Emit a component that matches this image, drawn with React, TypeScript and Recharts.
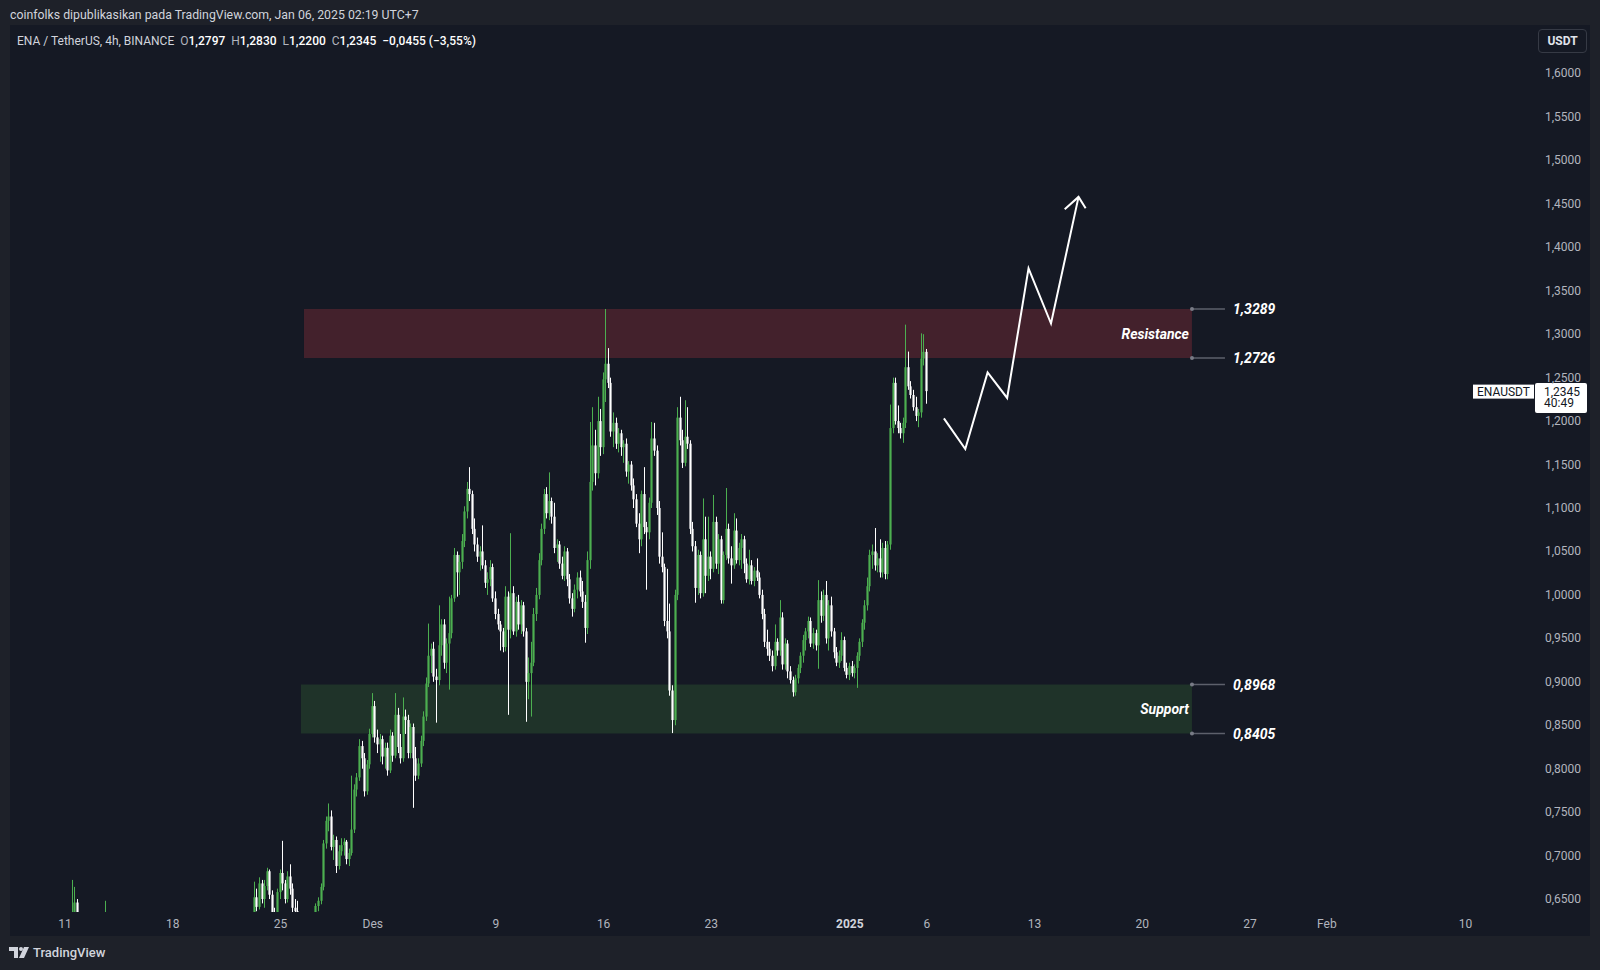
import {
  Bar,
  ComposedChart,
  Line,
  ReferenceArea,
  ReferenceLine,
  XAxis,
  YAxis,
} from "recharts"

type OHLC = [number, number, number, number]

// Candle 4h ENA/USDT (Binance). Waktu = hari sejak 11 Nov 2024 00:00 UTC+7.
const BAR_DAYS = 4 / 24

const NOV11_START = 7 / 24
const NOV11: OHLC[] = [
  [0.600, 0.625, 0.590, 0.618], [0.612, 0.672, 0.606, 0.628], [0.628, 0.664, 0.622, 0.646],
  [0.646, 0.650, 0.618, 0.624], [0.624, 0.630, 0.600, 0.606],
]

const NOV13_START = 2 + 11 / 24
const NOV13: OHLC[] = [
  [0.600, 0.612, 0.594, 0.608], [0.608, 0.648, 0.604, 0.626], [0.626, 0.630, 0.606, 0.612],
]

// dari 22 Nov 23:00, enam candle per hari
const MAIN_START = 11 + 23 / 24

const WEEK_NOV23: OHLC[] = [
  [0.600, 0.612, 0.592, 0.608], [0.608, 0.628, 0.604, 0.622], [0.622, 0.670, 0.618, 0.652], [0.652, 0.662, 0.636, 0.641], [0.641, 0.675, 0.638, 0.668], [0.668, 0.672, 0.645, 0.650],
  [0.650, 0.672, 0.640, 0.665], [0.665, 0.686, 0.660, 0.682], [0.682, 0.684, 0.650, 0.655], [0.655, 0.660, 0.628, 0.633], [0.633, 0.640, 0.615, 0.622], [0.622, 0.662, 0.618, 0.658],
  [0.658, 0.684, 0.650, 0.680], [0.680, 0.717, 0.660, 0.668], [0.668, 0.672, 0.645, 0.650], [0.650, 0.682, 0.646, 0.676], [0.676, 0.690, 0.655, 0.662], [0.662, 0.668, 0.632, 0.640],
  [0.640, 0.650, 0.630, 0.636], [0.636, 0.648, 0.620, 0.626], [0.626, 0.630, 0.598, 0.604], [0.604, 0.618, 0.590, 0.612], [0.612, 0.622, 0.596, 0.600], [0.600, 0.614, 0.588, 0.608],
  [0.608, 0.622, 0.600, 0.618], [0.618, 0.632, 0.612, 0.628], [0.628, 0.645, 0.624, 0.642], [0.642, 0.652, 0.636, 0.648], [0.648, 0.668, 0.644, 0.664], [0.664, 0.718, 0.660, 0.714],
  [0.714, 0.745, 0.708, 0.740], [0.740, 0.760, 0.728, 0.745], [0.745, 0.752, 0.706, 0.710], [0.710, 0.724, 0.695, 0.718], [0.718, 0.722, 0.680, 0.688], [0.688, 0.712, 0.684, 0.705],
  [0.705, 0.720, 0.700, 0.712], [0.712, 0.720, 0.700, 0.716], [0.716, 0.718, 0.690, 0.696], [0.696, 0.708, 0.688, 0.703], [0.703, 0.792, 0.700, 0.730], [0.730, 0.782, 0.726, 0.776],
]

const WEEK_NOV30: OHLC[] = [
  [0.776, 0.795, 0.768, 0.790], [0.790, 0.834, 0.786, 0.826], [0.826, 0.832, 0.800, 0.812], [0.812, 0.818, 0.768, 0.774], [0.774, 0.810, 0.770, 0.805], [0.805, 0.846, 0.800, 0.840],
  [0.840, 0.887, 0.836, 0.872], [0.872, 0.878, 0.830, 0.836], [0.836, 0.845, 0.818, 0.828], [0.828, 0.840, 0.808, 0.834], [0.834, 0.838, 0.805, 0.814], [0.814, 0.830, 0.800, 0.824],
  [0.824, 0.830, 0.792, 0.798], [0.798, 0.845, 0.795, 0.838], [0.838, 0.842, 0.808, 0.815], [0.815, 0.887, 0.812, 0.862], [0.862, 0.870, 0.818, 0.825], [0.825, 0.840, 0.806, 0.812],
  [0.812, 0.882, 0.808, 0.860], [0.860, 0.868, 0.840, 0.856], [0.856, 0.862, 0.812, 0.818], [0.818, 0.852, 0.812, 0.848], [0.848, 0.852, 0.755, 0.812], [0.812, 0.825, 0.786, 0.792],
  [0.792, 0.812, 0.788, 0.806], [0.806, 0.838, 0.802, 0.832], [0.832, 0.866, 0.826, 0.860], [0.860, 0.905, 0.855, 0.898], [0.898, 0.967, 0.894, 0.930], [0.930, 0.944, 0.910, 0.938],
  [0.938, 0.946, 0.900, 0.906], [0.906, 0.915, 0.853, 0.902], [0.902, 0.988, 0.896, 0.942], [0.942, 0.972, 0.930, 0.966], [0.966, 0.972, 0.915, 0.922], [0.922, 0.950, 0.910, 0.944],
  [0.944, 0.998, 0.891, 0.956], [0.956, 1.000, 0.950, 0.996], [0.996, 1.054, 0.992, 1.046], [1.046, 1.050, 0.998, 1.026], [1.026, 1.046, 1.000, 1.038], [1.038, 1.070, 1.030, 1.062],
]

const WEEK_DEC7: OHLC[] = [
  [1.062, 1.102, 1.055, 1.096], [1.096, 1.130, 1.088, 1.122], [1.122, 1.147, 1.108, 1.116], [1.116, 1.120, 1.070, 1.076], [1.076, 1.088, 1.050, 1.058], [1.058, 1.066, 1.038, 1.044],
  [1.044, 1.056, 1.028, 1.050], [1.050, 1.080, 1.030, 1.034], [1.034, 1.040, 1.008, 1.014], [1.014, 1.026, 1.000, 1.018], [1.018, 1.040, 1.010, 1.032], [1.032, 1.036, 0.992, 0.996],
  [0.996, 1.004, 0.972, 0.978], [0.978, 0.984, 0.960, 0.966], [0.966, 0.970, 0.936, 0.958], [0.958, 0.962, 0.934, 0.940], [0.940, 1.010, 0.935, 0.998], [0.998, 1.004, 0.862, 0.960],
  [0.960, 1.071, 0.950, 1.002], [1.002, 1.010, 0.954, 0.958], [0.958, 0.998, 0.952, 0.992], [0.992, 1.000, 0.960, 0.966], [0.966, 0.994, 0.955, 0.988], [0.988, 0.992, 0.952, 0.958],
  [0.958, 0.962, 0.854, 0.900], [0.900, 0.928, 0.880, 0.910], [0.910, 0.946, 0.860, 0.922], [0.922, 0.985, 0.918, 0.978], [0.978, 1.008, 0.970, 1.000], [1.000, 1.048, 0.995, 1.040],
  [1.040, 1.082, 1.034, 1.076], [1.076, 1.122, 1.070, 1.116], [1.116, 1.124, 1.088, 1.094], [1.094, 1.141, 1.086, 1.108], [1.108, 1.112, 1.082, 1.090], [1.090, 1.106, 1.048, 1.054],
  [1.054, 1.064, 1.038, 1.058], [1.058, 1.062, 1.030, 1.036], [1.036, 1.044, 1.018, 1.022], [1.022, 1.056, 1.016, 1.050], [1.050, 1.054, 1.010, 1.018], [1.018, 1.024, 0.990, 0.996],
]

const WEEK_DEC14: OHLC[] = [
  [0.996, 1.002, 0.975, 0.984], [0.984, 1.012, 0.980, 1.006], [1.006, 1.026, 0.996, 1.020], [1.020, 1.028, 0.998, 1.004], [1.004, 1.016, 0.985, 0.992], [0.992, 1.000, 0.945, 0.962],
  [0.962, 1.050, 0.955, 1.040], [1.040, 1.199, 1.030, 1.130], [1.130, 1.216, 1.120, 1.172], [1.172, 1.190, 1.126, 1.140], [1.140, 1.228, 1.134, 1.200], [1.200, 1.214, 1.160, 1.170],
  [1.170, 1.256, 1.162, 1.248], [1.248, 1.329, 1.222, 1.266], [1.266, 1.284, 1.238, 1.244], [1.244, 1.250, 1.182, 1.188], [1.188, 1.210, 1.170, 1.198], [1.198, 1.204, 1.168, 1.174],
  [1.174, 1.192, 1.164, 1.186], [1.186, 1.190, 1.160, 1.170], [1.170, 1.178, 1.152, 1.174], [1.174, 1.180, 1.136, 1.142], [1.142, 1.154, 1.128, 1.150], [1.150, 1.154, 1.120, 1.126],
  [1.126, 1.134, 1.100, 1.110], [1.110, 1.116, 1.078, 1.082], [1.082, 1.094, 1.048, 1.064], [1.064, 1.120, 1.056, 1.116], [1.116, 1.147, 1.070, 1.078], [1.078, 1.084, 1.006, 1.072],
  [1.072, 1.112, 1.064, 1.106], [1.106, 1.199, 1.100, 1.180], [1.180, 1.198, 1.160, 1.166], [1.166, 1.172, 1.092, 1.100], [1.100, 1.108, 1.036, 1.044], [1.044, 1.072, 1.026, 1.032],
  [1.032, 1.036, 0.964, 0.970], [0.970, 1.030, 0.950, 0.958], [0.958, 0.990, 0.884, 0.890], [0.890, 0.896, 0.841, 0.856], [0.856, 1.006, 0.850, 1.000], [1.000, 1.216, 0.994, 1.204],
]

const WEEK_DEC21: OHLC[] = [
  [1.204, 1.228, 1.172, 1.178], [1.178, 1.190, 1.146, 1.152], [1.152, 1.224, 1.148, 1.182], [1.182, 1.216, 1.168, 1.174], [1.174, 1.178, 1.070, 1.076], [1.076, 1.084, 1.050, 1.056],
  [1.056, 1.062, 0.991, 1.008], [1.008, 1.052, 1.000, 1.046], [1.046, 1.050, 0.996, 1.002], [1.002, 1.111, 0.998, 1.064], [1.064, 1.090, 1.002, 1.022], [1.022, 1.090, 1.016, 1.044],
  [1.044, 1.050, 1.018, 1.030], [1.030, 1.115, 1.026, 1.084], [1.084, 1.090, 1.030, 1.036], [1.036, 1.070, 1.024, 1.064], [1.064, 1.068, 0.990, 0.994], [0.994, 1.050, 0.990, 1.046],
  [1.046, 1.123, 1.040, 1.076], [1.076, 1.082, 1.036, 1.042], [1.042, 1.056, 1.013, 1.034], [1.034, 1.094, 1.030, 1.074], [1.074, 1.088, 1.036, 1.040], [1.040, 1.060, 1.034, 1.054],
  [1.054, 1.070, 1.030, 1.064], [1.064, 1.068, 1.025, 1.036], [1.036, 1.042, 1.014, 1.018], [1.018, 1.052, 1.012, 1.034], [1.034, 1.040, 1.012, 1.016], [1.016, 1.032, 1.010, 1.028],
  [1.028, 1.042, 1.016, 1.020], [1.020, 1.026, 0.996, 1.000], [1.000, 1.006, 0.972, 0.978], [0.978, 0.984, 0.940, 0.946], [0.946, 0.960, 0.930, 0.938], [0.938, 0.946, 0.924, 0.930],
  [0.930, 0.936, 0.912, 0.918], [0.918, 0.966, 0.914, 0.946], [0.946, 0.950, 0.930, 0.936], [0.936, 0.994, 0.930, 0.974], [0.974, 0.980, 0.914, 0.920], [0.920, 0.950, 0.914, 0.944],
]

const WEEK_DEC28: OHLC[] = [
  [0.944, 0.948, 0.904, 0.912], [0.912, 0.918, 0.898, 0.902], [0.902, 0.906, 0.883, 0.888], [0.888, 0.908, 0.884, 0.904], [0.904, 0.920, 0.898, 0.916], [0.916, 0.934, 0.910, 0.930],
  [0.930, 0.954, 0.922, 0.948], [0.948, 0.962, 0.936, 0.958], [0.958, 0.975, 0.950, 0.970], [0.970, 0.974, 0.940, 0.944], [0.944, 0.962, 0.938, 0.956], [0.956, 0.960, 0.936, 0.942],
  [0.942, 1.017, 0.915, 0.994], [0.994, 1.004, 0.968, 0.976], [0.976, 1.006, 0.970, 1.000], [1.000, 1.016, 0.944, 0.950], [0.950, 0.994, 0.936, 0.988], [0.988, 0.998, 0.952, 0.958],
  [0.958, 0.962, 0.927, 0.934], [0.934, 0.940, 0.918, 0.922], [0.922, 0.936, 0.916, 0.930], [0.930, 0.957, 0.924, 0.948], [0.948, 0.952, 0.912, 0.916], [0.916, 0.922, 0.904, 0.908],
  [0.908, 0.922, 0.902, 0.918], [0.918, 0.924, 0.906, 0.910], [0.910, 0.920, 0.904, 0.916], [0.916, 0.934, 0.893, 0.930], [0.930, 0.950, 0.924, 0.946], [0.946, 0.972, 0.940, 0.968],
  [0.968, 0.994, 0.960, 0.988], [0.988, 1.020, 0.982, 1.010], [1.010, 1.052, 1.004, 1.046], [1.046, 1.058, 1.030, 1.050], [1.050, 1.077, 1.028, 1.034], [1.034, 1.048, 1.026, 1.042],
  [1.042, 1.064, 1.020, 1.026], [1.026, 1.060, 1.020, 1.054], [1.054, 1.062, 1.018, 1.024], [1.024, 1.062, 1.018, 1.058], [1.058, 1.219, 1.052, 1.192], [1.192, 1.250, 1.186, 1.244],
]

const WEEK_JAN4: OHLC[] = [
  [1.244, 1.250, 1.196, 1.200], [1.200, 1.218, 1.186, 1.192], [1.192, 1.198, 1.180, 1.186], [1.186, 1.204, 1.175, 1.198], [1.198, 1.311, 1.192, 1.262], [1.262, 1.280, 1.236, 1.240],
  [1.240, 1.246, 1.226, 1.230], [1.230, 1.236, 1.212, 1.216], [1.216, 1.228, 1.200, 1.206], [1.206, 1.214, 1.193, 1.210], [1.210, 1.301, 1.204, 1.272], [1.272, 1.300, 1.264, 1.2797],
  [1.2797, 1.2830, 1.2200, 1.2345],
]

// gambar proyeksi (panah putih)
const PROJECTION_T = [57.11, 58.5, 59.95, 61.22, 62.61, 64.07, 65.86]
const PROJECTION_P = [1.2031, 1.1679, 1.256, 1.2266, 1.3757, 1.3123, 1.458]
const ARROWHEAD_T = [64.96, 65.86, 66.32]
const ARROWHEAD_P = [1.4438, 1.458, 1.445]

// zona
const RESISTANCE_T = [15.53, 73.23]
const RESISTANCE_P = [1.2726, 1.3289]
const SUPPORT_T = [15.33, 73.23]
const SUPPORT_P = [0.8405, 0.8968]

const LAST_PRICE = 1.2345

const TIME_TICKS = [0, 7, 14, 20, 28, 35, 42, 51, 56, 63, 70, 77, 82, 91]
const TIME_LABELS = ["11", "18", "25", "Des", "9", "16", "23", "2025", "6", "13", "20", "27", "Feb", "10"]
const PRICE_TICKS = [
  0.65, 0.7, 0.75, 0.8, 0.85, 0.9, 0.95, 1.0, 1.05, 1.1,
  1.15, 1.2, 1.25, 1.3, 1.35, 1.4, 1.45, 1.5, 1.55, 1.6,
]

const UP = "#4caf50"
const DOWN = "#ffffff"
const PANE = "#151924"
const FRAME = "#1e2129"
const FONT = "Roboto, 'Noto Sans', sans-serif"

function series(start: number, rows: OHLC[]) {
  return rows.map(([o, h, l, c], i) => ({
    t: start + i * BAR_DAYS,
    o,
    h,
    l,
    c,
    range: [l, h],
  }))
}

const candles = [
  ...series(NOV11_START, NOV11),
  ...series(NOV13_START, NOV13),
  ...series(MAIN_START, [
    ...WEEK_NOV23,
    ...WEEK_NOV30,
    ...WEEK_DEC7,
    ...WEEK_DEC14,
    ...WEEK_DEC21,
    ...WEEK_DEC28,
    ...WEEK_JAN4,
  ]),
]

const projection = PROJECTION_T.map((t, i) => ({ t, p: PROJECTION_P[i] }))
const arrowHead = ARROWHEAD_T.map((t, i) => ({ t, p: ARROWHEAD_P[i] }))

function fmt(v: number) {
  return v.toFixed(4).replace(".", ",")
}

function Candle(props: any) {
  const { x, y, width, height, payload } = props
  if (!payload) return null
  const { o, h, l, c } = payload
  const cx = Math.round(x + width / 2)
  const span = h - l || 1
  const k = Math.abs(height) / span
  const top = Math.min(y, y + height)
  const yO = top + (h - o) * k
  const yC = top + (h - c) * k
  const color = c >= o ? UP : DOWN
  return (
    <g>
      <rect x={cx} y={top} width={1} height={Math.abs(height)} fill={color} />
      <rect
        x={cx - 0.6}
        y={Math.min(yO, yC)}
        width={2.2}
        height={Math.max(1, Math.abs(yC - yO))}
        fill={color}
      />
    </g>
  )
}

function TimeTick(props: any) {
  const { x, y, payload } = props
  const label = TIME_LABELS[TIME_TICKS.indexOf(payload.value)]
  const bold = label === "2025"
  return (
    <text
      x={x}
      y={y + 12}
      textAnchor="middle"
      dominantBaseline="central"
      fontSize={12}
      fontFamily={FONT}
      fontWeight={bold ? 700 : 400}
      fill={bold ? "#d1d4dc" : "#b2b5be"}
    >
      {label}
    </text>
  )
}

function PriceTick(props: any) {
  const { x, y, payload } = props
  return (
    <text
      x={x + 46}
      y={y}
      textAnchor="end"
      dominantBaseline="central"
      fontSize={12}
      fontFamily={FONT}
      fill="#b2b5be"
    >
      {fmt(payload.value)}
    </text>
  )
}

function ZoneLabel(props: any) {
  const { viewBox, name, top, bottom } = props
  if (!viewBox) return null
  const { x, y, width, height } = viewBox
  const right = x + width
  const edges: [number, string][] = [
    [y, top],
    [y + height, bottom],
  ]
  return (
    <g fontFamily={FONT} fontStyle="italic" fontWeight={700} fontSize={14}>
      <text
        x={right - 3}
        y={y + height / 2}
        textAnchor="end"
        dominantBaseline="central"
        fill="#ffffff"
      >
        {name}
      </text>
      {edges.map(([yy, txt]) => (
        <g key={txt}>
          <line x1={right} x2={right + 33} y1={yy} y2={yy} stroke="#5d606b" strokeWidth={1.5} />
          <circle cx={right} cy={yy} r={2} fill="#787b86" />
          <text x={right + 41} y={yy} dominantBaseline="central" fill="#ffffff">
            {txt}
          </text>
        </g>
      ))}
    </g>
  )
}

function PriceTag(props: any) {
  const { viewBox } = props
  if (!viewBox) return null
  const y = viewBox.y
  const ax = viewBox.x + viewBox.width
  return (
    <g fontFamily={FONT} fontSize={12}>
      <rect x={ax - 62} y={y - 6.5} width={61} height={14} fill="#ffffff" />
      <text x={ax - 31.5} y={y + 0.5} textAnchor="middle" dominantBaseline="central" fill="#131722">
        ENAUSDT
      </text>
      <rect x={ax} y={y - 8} width={52} height={30} rx={2} fill="#ffffff" />
      <text x={ax + 9} y={y + 0.5} dominantBaseline="central" fill="#131722">
        {fmt(LAST_PRICE)}
      </text>
      <text x={ax + 9} y={y + 12} dominantBaseline="central" fill="#131722">
        40:49
      </text>
    </g>
  )
}

function Logo() {
  return (
    <svg width={20} height={12} viewBox="0 0 20 12" style={{ display: "block" }}>
      <path d="M0 0h9v11H5V4H0z" fill="#d1d4dc" />
      <circle cx={12} cy={2} r={2} fill="#d1d4dc" />
      <path d="M15 0h5l-5 11h-5z" fill="#d1d4dc" />
    </svg>
  )
}

export default function App() {
  return (
    <div
      style={{
        position: "absolute",
        left: 0,
        top: 0,
        width: 1600,
        height: 970,
        background: FRAME,
        fontFamily: FONT,
        overflow: "hidden",
      }}
    >
      <div
        style={{
          position: "absolute",
          left: 10,
          top: 6,
          fontSize: 12.3,
          lineHeight: "18px",
          color: "#d1d4dc",
        }}
      >
        coinfolks dipublikasikan pada TradingView.com, Jan 06, 2025 02:19 UTC+7
      </div>

      <div
        style={{
          position: "absolute",
          left: 10,
          top: 25,
          width: 1580,
          height: 911,
          background: PANE,
        }}
      >
        <ComposedChart
          width={1580}
          height={911}
          data={candles}
          margin={{ top: 0, right: 0, bottom: 0, left: 0 }}
        >
          <XAxis
            dataKey="t"
            type="number"
            domain={[-3.574, 95.52]}
            allowDataOverflow
            ticks={TIME_TICKS}
            interval={0}
            tick={<TimeTick />}
            tickSize={0}
            tickMargin={0}
            axisLine={false}
            tickLine={false}
            height={24}
          />
          <YAxis
            orientation="right"
            type="number"
            domain={[0.6351, 1.6558]}
            allowDataOverflow
            ticks={PRICE_TICKS}
            interval={0}
            tick={<PriceTick />}
            tickSize={0}
            tickMargin={0}
            axisLine={false}
            tickLine={false}
            width={55}
          />
          <ReferenceArea
            x1={RESISTANCE_T[0]}
            x2={RESISTANCE_T[1]}
            y1={RESISTANCE_P[0]}
            y2={RESISTANCE_P[1]}
            fill="#43212c"
            fillOpacity={1}
            stroke="none"
            label={<ZoneLabel name="Resistance" top={fmt(RESISTANCE_P[1])} bottom={fmt(RESISTANCE_P[0])} />}
          />
          <ReferenceArea
            x1={SUPPORT_T[0]}
            x2={SUPPORT_T[1]}
            y1={SUPPORT_P[0]}
            y2={SUPPORT_P[1]}
            fill="#1f3329"
            fillOpacity={1}
            stroke="none"
            label={<ZoneLabel name="Support" top={fmt(SUPPORT_P[1])} bottom={fmt(SUPPORT_P[0])} />}
          />
          <Bar dataKey="range" shape={<Candle />} barSize={2} isAnimationActive={false} />
          <Line
            data={projection}
            dataKey="p"
            type="linear"
            stroke="#ffffff"
            strokeWidth={2}
            dot={false}
            activeDot={false}
            isAnimationActive={false}
          />
          <Line
            data={arrowHead}
            dataKey="p"
            type="linear"
            stroke="#ffffff"
            strokeWidth={2}
            dot={false}
            activeDot={false}
            isAnimationActive={false}
          />
          <ReferenceLine y={LAST_PRICE} stroke="none" strokeOpacity={0} label={<PriceTag />} />
        </ComposedChart>

        <div
          style={{
            position: "absolute",
            left: 7,
            top: 7,
            fontSize: 12,
            lineHeight: "18px",
            color: "#d1d4dc",
            whiteSpace: "pre",
          }}
        >
          {"ENA / TetherUS, 4h, BINANCE  "}
          {[
            ["O", "1,2797"],
            ["H", "1,2830"],
            ["L", "1,2200"],
            ["C", "1,2345"],
          ].map(([k, v]) => (
            <span key={k}>
              <span style={{ color: "#b2b5be" }}>{k}</span>
              <span style={{ color: "#ffffff", fontWeight: 500 }}>{v}</span>
              {"  "}
            </span>
          ))}
          <span style={{ color: "#ffffff", fontWeight: 500 }}>−0,0455 (−3,55%)</span>
        </div>

        <div
          style={{
            position: "absolute",
            left: 1528,
            top: 4,
            width: 47,
            height: 22,
            border: "1px solid #363a45",
            borderRadius: 4,
            color: "#e0e3eb",
            fontSize: 12,
            fontWeight: 700,
            lineHeight: "22px",
            textAlign: "center",
          }}
        >
          USDT
        </div>
      </div>

      <div
        style={{
          position: "absolute",
          left: 9,
          top: 944,
          display: "flex",
          alignItems: "center",
          gap: 4,
          color: "#d1d4dc",
          fontSize: 13,
          fontWeight: 500,
          lineHeight: "18px",
        }}
      >
        <Logo />
        TradingView
      </div>
    </div>
  )
}
